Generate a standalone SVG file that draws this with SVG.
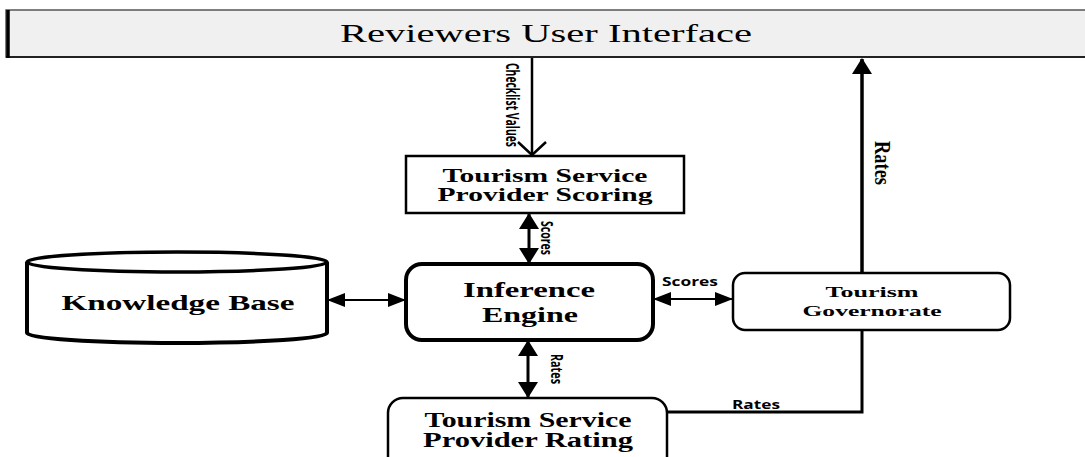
<svg xmlns="http://www.w3.org/2000/svg" width="1085" height="457" viewBox="0 0 1085 457">
  <style>
    .box { fill: #ffffff; stroke: #000000; }
    .title { font-family: "Liberation Serif", "Times New Roman", serif; font-weight: bold; fill: #000000; text-anchor: middle; }
    .lbl { font-family: "Open Sans", "Liberation Sans", sans-serif; font-weight: bold; fill: #000000; text-anchor: middle; }
    .wire { fill: none; stroke: #000000; }
  </style>
  <defs>
    <marker id="head" markerUnits="userSpaceOnUse" viewBox="0 0 16 20" refX="15" refY="10" markerWidth="16" markerHeight="20" orient="auto-start-reverse">
      <path d="M0,0 L16,10 L0,20 z" fill="#000000"/>
    </marker>
    <marker id="headSmall" markerUnits="userSpaceOnUse" viewBox="0 0 18 14" refX="17" refY="7" markerWidth="18" markerHeight="14" orient="auto-start-reverse">
      <path d="M0,0 L18,7 L0,14 z" fill="#000000"/>
    </marker>
  </defs>

  <rect width="1085" height="457" fill="#ffffff"/>

  <!-- top banner -->
  <g id="reviewers-ui">
    <rect x="6" y="10" width="1090" height="47" fill="#f0f0f0" stroke="#555555" stroke-width="1.5"/>
    <line x1="6" y1="57" x2="1085" y2="57" stroke="#222222" stroke-width="2"/>
    <line x1="8" y1="10" x2="8" y2="58" stroke="#000000" stroke-width="3.5"/>
    <text x="546" y="42" font-family="Liberation Serif, serif" font-size="25" text-anchor="middle" fill="#000000" textLength="412" lengthAdjust="spacingAndGlyphs">Reviewers User Interface</text>
  </g>

  <!-- scoring -->
  <g id="provider-scoring">
    <rect class="box" x="406" y="156" width="278" height="57" stroke-width="2.5"/>
    <text class="title" x="545" y="182" font-size="19" textLength="205" lengthAdjust="spacingAndGlyphs">Tourism Service</text>
    <text class="title" x="545" y="201" font-size="19" textLength="215" lengthAdjust="spacingAndGlyphs">Provider Scoring</text>
  </g>

  <!-- knowledge base cylinder -->
  <g id="knowledge-base">
    <path d="M27,262 L27,333 A150,10 0 0 0 327,333 L327,262" fill="#ffffff" stroke="#000000" stroke-width="4"/>
    <ellipse cx="177" cy="262" rx="150" ry="10" fill="#ffffff" stroke="#000000" stroke-width="3.5"/>
    <text class="title" x="178" y="310" font-size="22" textLength="233" lengthAdjust="spacingAndGlyphs">Knowledge Base</text>
  </g>

  <!-- inference engine -->
  <g id="inference-engine">
    <rect class="box" x="406" y="264" width="247" height="76" rx="16" stroke-width="4"/>
    <text class="title" x="529" y="297" font-size="22" textLength="132" lengthAdjust="spacingAndGlyphs">Inference</text>
    <text class="title" x="530" y="322" font-size="22" textLength="96" lengthAdjust="spacingAndGlyphs">Engine</text>
  </g>

  <!-- governorate -->
  <g id="governorate">
    <rect class="box" x="733" y="273" width="277" height="57" rx="12" stroke-width="2.5"/>
    <text class="title" x="872" y="297" font-size="15" textLength="93" lengthAdjust="spacingAndGlyphs">Tourism</text>
    <text class="title" x="872" y="316" font-size="15" textLength="139" lengthAdjust="spacingAndGlyphs">Governorate</text>
  </g>

  <!-- rating -->
  <g id="provider-rating">
    <rect class="box" x="388" y="398" width="279" height="80" rx="15" stroke-width="2.5"/>
    <text class="title" x="528" y="427" font-size="20" textLength="207" lengthAdjust="spacingAndGlyphs">Tourism Service</text>
    <text class="title" x="528" y="447" font-size="20" textLength="210" lengthAdjust="spacingAndGlyphs">Provider Rating</text>
  </g>

  <!-- connectors -->
  <g id="connectors">
    <!-- checklist values: UI -> scoring -->
    <line class="wire" x1="532" y1="58" x2="532" y2="154" stroke-width="2.5"/>
    <path class="wire" d="M518,142 L532,155 L546,142" stroke-width="2.5"/>
    <text class="lbl" transform="translate(512,105) rotate(90)" font-size="17" textLength="84" lengthAdjust="spacingAndGlyphs" dy="6">Checklist Values</text>

    <!-- scores: scoring <-> engine -->
    <line class="wire" x1="529" y1="214" x2="529" y2="263" stroke-width="3" marker-start="url(#head)" marker-end="url(#head)"/>
    <text class="lbl" transform="translate(547,238) rotate(90)" font-size="16" textLength="34" lengthAdjust="spacingAndGlyphs" dy="6">Scores</text>

    <!-- knowledge base <-> engine -->
    <line class="wire" x1="328" y1="300" x2="405" y2="300" stroke-width="2" marker-start="url(#headSmall)" marker-end="url(#headSmall)"/>

    <!-- scores: engine <-> governorate -->
    <line class="wire" x1="654" y1="299" x2="732" y2="299" stroke-width="2" marker-start="url(#headSmall)" marker-end="url(#headSmall)"/>
    <text class="lbl" x="690" y="286" font-size="13" textLength="56" lengthAdjust="spacingAndGlyphs">Scores</text>

    <!-- rates: engine <-> rating -->
    <line class="wire" x1="528" y1="341" x2="528" y2="397" stroke-width="3" marker-start="url(#head)" marker-end="url(#head)"/>
    <text class="lbl" transform="translate(557,369) rotate(90)" font-size="16" textLength="30" lengthAdjust="spacingAndGlyphs" dy="6">Rates</text>

    <!-- rates: rating -> governorate column -->
    <path class="wire" d="M667,412 L862,412 L862,330" stroke-width="3"/>
    <text class="lbl" x="756" y="409" font-size="12" textLength="48" lengthAdjust="spacingAndGlyphs">Rates</text>

    <!-- rates: governorate -> UI -->
    <line class="wire" x1="862" y1="273" x2="862" y2="59" stroke-width="3.5" marker-end="url(#head)"/>
    <text transform="translate(882,163) rotate(90)" font-family="Liberation Serif, serif" font-size="24" font-weight="bold" text-anchor="middle" fill="#000000" textLength="44" lengthAdjust="spacingAndGlyphs" dy="7">Rates</text>
  </g>
</svg>
